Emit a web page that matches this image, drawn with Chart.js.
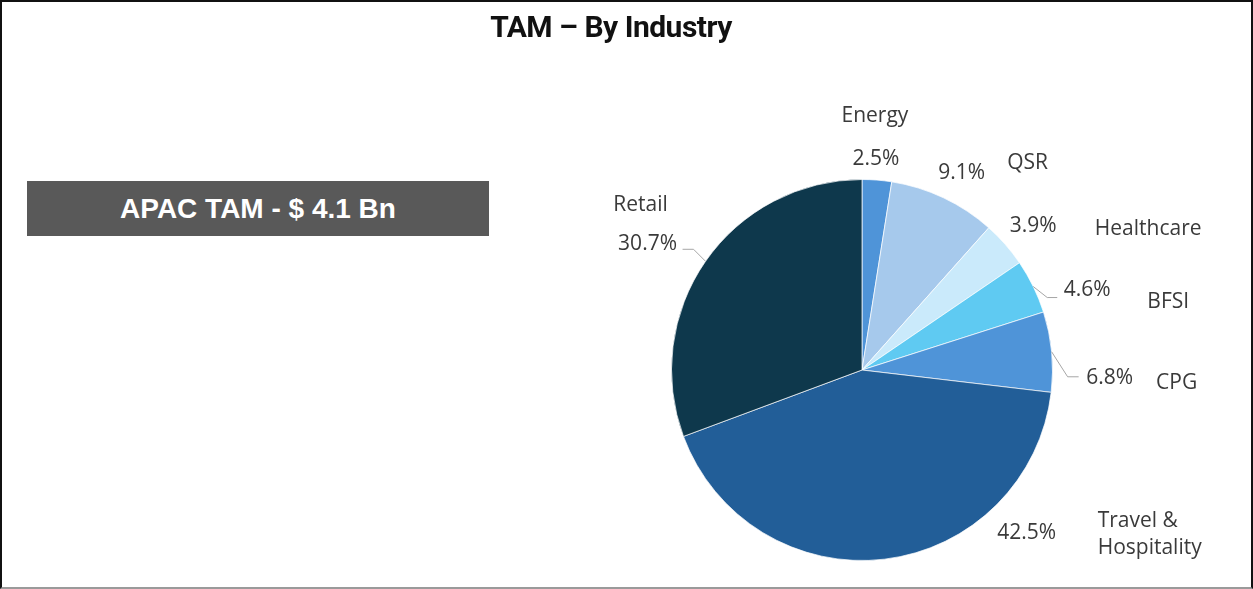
<!DOCTYPE html>
<html>
<head>
<meta charset="utf-8">
<script src="https://cdn.jsdelivr.net/npm/chart.js@4.4.1/dist/chart.umd.min.js"></script>
<style>
    html, body { margin: 0; padding: 0; background: #fff; }
    #wrap { position: relative; width: 1253px; height: 589px; overflow: hidden; }
    #frame { position: absolute; left: 0; top: 0; width: 1249px; height: 585px; border: 2px solid #111; border-bottom-color: #9a9a9a; box-sizing: content-box; pointer-events: none; }
    #title { position: absolute; left: 0; width: 1222px; top: 9px; text-align: center; font: bold 30px 'Roboto', sans-serif; color: #111; letter-spacing: -0.5px; }
    #tamBox { position: absolute; left: 27px; top: 181px; width: 462px; height: 55px; background: #595959; color: #fff; font: bold 28px 'Liberation Sans', 'Open Sans', sans-serif; line-height: 55px; text-align: center; }
    canvas { position: absolute; left: 0; top: 0; }
</style>
</head>
<body>
<div id="wrap">
    <canvas id="pieChart" width="1253" height="589"></canvas>
    <div id="title">TAM – By Industry</div>
    <div id="tamBox">APAC TAM - $ 4.1 Bn</div>
    <div id="frame"></div>
</div>
<script>
const industries = ['Energy', 'QSR', 'Healthcare', 'BFSI', 'CPG', 'Travel & Hospitality', 'Retail'];
const sharePct = [2.5, 9.1, 3.9, 4.6, 6.8, 42.5, 30.7];
const sliceColors = ['#4f94d8', '#a6c9ec', '#caeafb', '#5fcaf2', '#4f94d8', '#225e98', '#0e384c'];

// label placement, offsets from the slice's outer midpoint
const labelLayout = [
    { pct: [-1, -21], name: [-2, -64] },
    { pct: [18, -25], name: [84, -35] },
    { pct: [28, -18], name: [143, -15] },
    { pct: [54, 3], name: [135, 15], elbow: [14, 11], lineEnd: 24 },
    { pct: [58, 26], name: [125, 31], elbow: [16, 25], lineEnd: 27 },
    { pct: [142, -26], name: [213, -38], lines: ['Travel &', 'Hospitality'], left: true },
    { pct: [-58, -17], name: [-65, -56], elbow: [-12, -12], lineEnd: -23 }
];

const pieLabels = {
    id: 'pieLabels',
    afterDatasetsDraw(chart) {
        const ctx = chart.ctx;
        const arcs = chart.getDatasetMeta(0).data;
        ctx.save();
        ctx.font = '21px "Open Sans", sans-serif';
        ctx.fillStyle = '#3a3a3a';
        ctx.textBaseline = 'middle';
        arcs.forEach((arc, i) => {
            const p = arc.getProps(['x', 'y', 'startAngle', 'endAngle', 'outerRadius'], true);
            const mid = (p.startAngle + p.endAngle) / 2;
            const ax = p.x + Math.cos(mid) * p.outerRadius;
            const ay = p.y + Math.sin(mid) * p.outerRadius;
            const lay = labelLayout[i];

            if (lay.elbow) {
                ctx.strokeStyle = '#a6a6a6';
                ctx.lineWidth = 1;
                ctx.beginPath();
                ctx.moveTo(ax, ay);
                ctx.lineTo(ax + lay.elbow[0], ay + lay.elbow[1]);
                ctx.lineTo(ax + lay.lineEnd, ay + lay.elbow[1]);
                ctx.stroke();
            }

            ctx.textAlign = 'center';
            ctx.fillText(sharePct[i].toFixed(1) + '%', ax + lay.pct[0], ay + lay.pct[1]);

            if (lay.lines) {
                ctx.textAlign = 'left';
                lay.lines.forEach((t, k) => ctx.fillText(t, ax + lay.name[0], ay + lay.name[1] + k * 27));
            } else {
                ctx.fillText(industries[i], ax + lay.name[0], ay + lay.name[1]);
            }
        });
        ctx.restore();
    }
};

new Chart(document.getElementById('pieChart').getContext('2d'), {
    type: 'pie',
    data: {
        labels: industries,
        datasets: [{
            data: sharePct,
            backgroundColor: sliceColors,
            borderColor: 'rgba(255,255,255,0.7)',
            borderWidth: 1
        }]
    },
    options: {
        responsive: false,
        animation: false,
        layout: { padding: { left: 671, top: 179, right: 200, bottom: 28 } },
        plugins: {
            legend: { display: false },
            tooltip: { enabled: false }
        }
    },
    plugins: [pieLabels]
});
</script>
</body>
</html>
